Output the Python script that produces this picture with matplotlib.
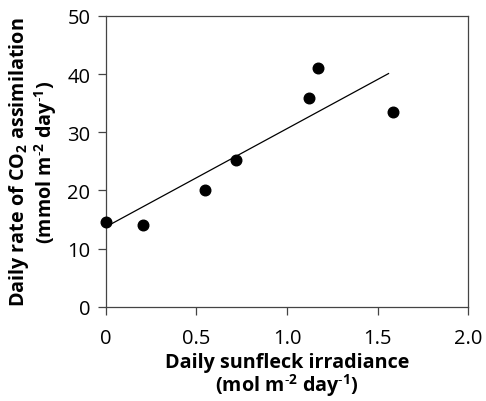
import matplotlib
matplotlib.use("Agg")
import matplotlib.pyplot as plt

# Data
irradiance = [0.0, 0.207, 0.548, 0.717, 1.121, 1.169, 1.586]
assimilation = [14.5, 14.1, 20.1, 25.3, 35.9, 41.1, 33.5]
fit_x = [0.005, 1.56]
fit_y = [13.8, 40.1]
x_ticks = [0, 0.5, 1.0, 1.5, 2.0]
x_ticklabels = ["0", "0.5", "1.0", "1.5", "2.0"]
y_ticks = [0, 10, 20, 30, 40, 50]

plt.rcParams['font.family'] = ['Open Sans', 'DejaVu Sans']
plt.rcParams['mathtext.fontset'] = 'custom'
plt.rcParams['mathtext.rm'] = 'Open Sans'
plt.rcParams['mathtext.bf'] = 'Open Sans:bold'
plt.rcParams['mathtext.default'] = 'bf'
plt.rcParams['axes.unicode_minus'] = False

fig = plt.figure(figsize=(4.86, 4.02), dpi=100)
ax = fig.add_axes([105.7/486, 1 - 307.7/402, (468.3-105.7)/486, (307.7-17)/402])

ax.plot(fit_x, fit_y, color='black', lw=0.9, zorder=2)
ax.scatter(irradiance, assimilation, s=58, color='black', zorder=3, clip_on=False)

ax.set_xlim(0, 2.0)
ax.set_ylim(0, 50)
ax.set_xticks(x_ticks)
ax.set_xticklabels(x_ticklabels)
ax.set_yticks(y_ticks)
for s in ax.spines.values():
    s.set_color('#444444')
    s.set_linewidth(0.9)
ax.tick_params(direction='out', length=6, width=0.9, color='#444444',
               labelsize=14.5)
ax.tick_params(axis='x', pad=9)
ax.tick_params(axis='y', pad=5)

ax.set_xlabel("Daily sunfleck irradiance\n(mol m$^{\\text{-}2}$ day$^{\\text{-}1}$)",
              fontsize=14.2, fontweight='bold', labelpad=3, linespacing=0.98)
ax.set_ylabel("Daily rate of CO$_2$ assimilation\n(mmol m$^{\\text{-}2}$ day$^{\\text{-}1}$)",
              fontsize=14.2, fontweight='bold', labelpad=6, linespacing=1.05)

fig.savefig("out.png", dpi=100)
